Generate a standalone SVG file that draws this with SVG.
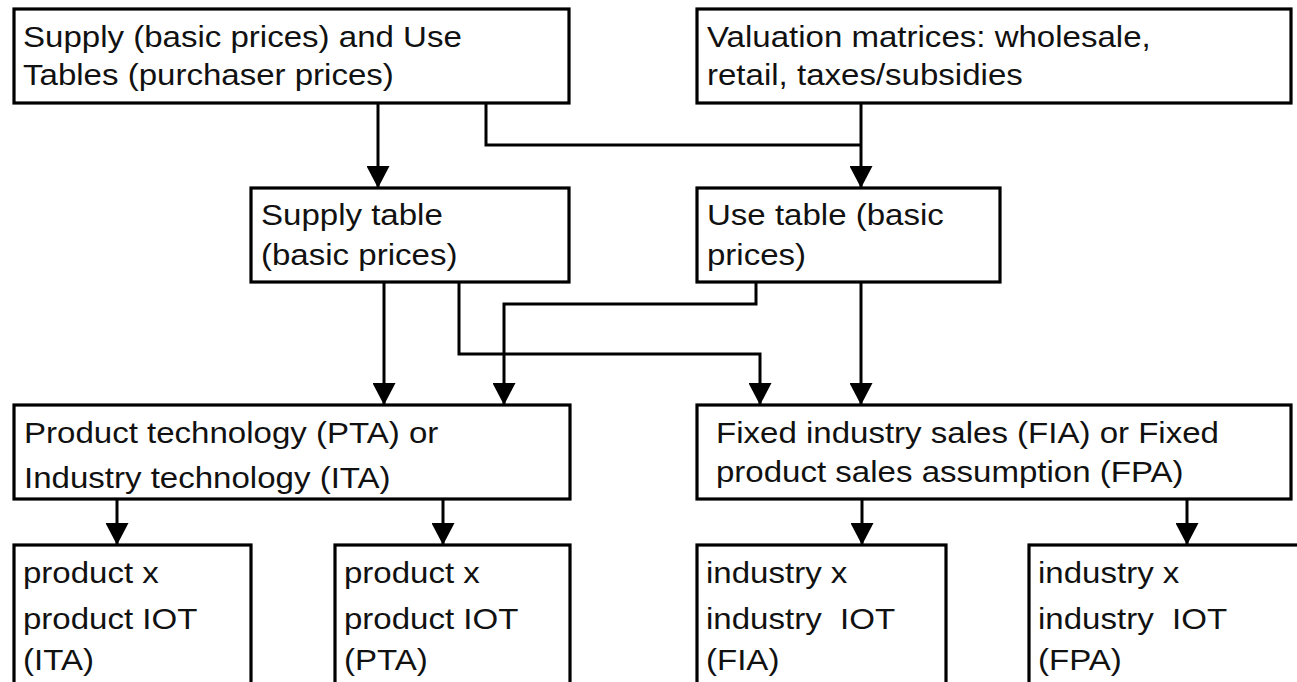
<svg xmlns="http://www.w3.org/2000/svg" width="1297" height="682" viewBox="0 0 1297 682">
<style>
.box{fill:#fff;stroke:#000;stroke-width:3.2}
.t{font-family:"Liberation Sans",Arial,Helvetica,sans-serif;font-size:29.5px;fill:#111}
.c{fill:none;stroke:#000;stroke-width:3}
</style>
<defs>
<marker id="ah" markerUnits="userSpaceOnUse" markerWidth="23" markerHeight="23" refX="22" refY="11.5" orient="auto" viewBox="0 0 23 23">
<path d="M0,0 L22,11.5 L0,23 z" fill="#000"/>
</marker>
</defs>
<rect width="1297" height="682" fill="#fff"/>
<g id="connectors">
<path class="c" d="M486,104 V145 H861"/>
<path class="c" d="M378,104 V188" marker-end="url(#ah)"/>
<path class="c" d="M861,104 V188" marker-end="url(#ah)"/>
<path class="c" d="M384,282 V405" marker-end="url(#ah)"/>
<path class="c" d="M459,282 V354 H760 V405" marker-end="url(#ah)"/>
<path class="c" d="M756,282 V304 H504 V405" marker-end="url(#ah)"/>
<path class="c" d="M861,282 V405" marker-end="url(#ah)"/>
<path class="c" d="M117,499 V545" marker-end="url(#ah)"/>
<path class="c" d="M443,499 V545" marker-end="url(#ah)"/>
<path class="c" d="M862,499 V545" marker-end="url(#ah)"/>
<path class="c" d="M1187,499 V545" marker-end="url(#ah)"/>
</g>
<g id="supply-use">
<rect class="box" x="14" y="9" width="555" height="94"/>
<text class="t" transform="translate(23,47) scale(1.12,1)"><tspan x="0" y="0">Supply (basic prices) and Use</tspan><tspan x="0" y="38">Tables (purchaser prices)</tspan></text>
</g>
<g id="valuation">
<rect class="box" x="697" y="9" width="594" height="94"/>
<text class="t" transform="translate(707,47) scale(1.12,1)"><tspan x="0" y="0">Valuation matrices: wholesale,</tspan><tspan x="0" y="38">retail, taxes/subsidies</tspan></text>
</g>
<g id="supply-table">
<rect class="box" x="251" y="188" width="318" height="94"/>
<text class="t" transform="translate(261,225) scale(1.12,1)"><tspan x="0" y="0">Supply table</tspan><tspan x="0" y="40">(basic prices)</tspan></text>
</g>
<g id="use-table">
<rect class="box" x="697" y="188" width="303" height="94"/>
<text class="t" transform="translate(707,225) scale(1.12,1)"><tspan x="0" y="0">Use table (basic</tspan><tspan x="0" y="40">prices)</tspan></text>
</g>
<g id="pta-ita">
<rect class="box" x="14" y="405" width="556" height="94"/>
<text class="t" transform="translate(24,443) scale(1.12,1)"><tspan x="0" y="0">Product technology (PTA) or</tspan><tspan x="0" y="45">Industry technology (ITA)</tspan></text>
</g>
<g id="fia-fpa">
<rect class="box" x="697" y="405" width="594" height="94"/>
<text class="t" transform="translate(716,443) scale(1.12,1)"><tspan x="0" y="0">Fixed industry sales (FIA) or Fixed</tspan><tspan x="0" y="39">product sales assumption (FPA)</tspan></text>
</g>
<g id="pxp-ita">
<rect class="box" x="14" y="545" width="237" height="150"/>
<text class="t" transform="translate(23,583) scale(1.12,1)"><tspan x="0" y="0">product x</tspan><tspan x="0" y="46">product IOT</tspan><tspan x="0" y="87">(ITA)</tspan></text>
</g>
<g id="pxp-pta">
<rect class="box" x="335" y="545" width="235" height="150"/>
<text class="t" transform="translate(344,583) scale(1.12,1)"><tspan x="0" y="0">product x</tspan><tspan x="0" y="46">product IOT</tspan><tspan x="0" y="87">(PTA)</tspan></text>
</g>
<g id="ixi-fia">
<rect class="box" x="697" y="545" width="249" height="150"/>
<text class="t" transform="translate(706,583) scale(1.12,1)"><tspan x="0" y="0">industry x</tspan><tspan x="0" y="46" xml:space="preserve">industry  IOT</tspan><tspan x="0" y="87">(FIA)</tspan></text>
</g>
<g id="ixi-fpa">
<rect class="box" x="1029" y="545" width="280" height="150"/>
<text class="t" transform="translate(1038,583) scale(1.12,1)"><tspan x="0" y="0">industry x</tspan><tspan x="0" y="46" xml:space="preserve">industry  IOT</tspan><tspan x="0" y="87">(FPA)</tspan></text>
</g>
</svg>
